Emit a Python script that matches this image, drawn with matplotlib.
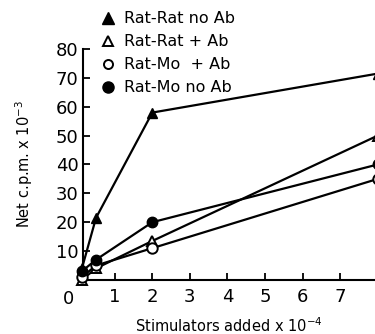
import numpy as np
import matplotlib.pyplot as plt
from matplotlib.lines import Line2D

# stimulators added (x 10^-4)
x_vals = [0.125, 0.5, 2, 8]

# net c.p.m. x 10^-3
rat_rat_no_ab = [4, 21.5, 58, 71.5]
rat_rat_ab = [0, 4, 13.5, 50]
rat_mo_ab = [1, 5, 11, 35]
rat_mo_no_ab = [3, 7, 20, 40]

labels = ['Rat-Rat no Ab', 'Rat-Rat + Ab', 'Rat-Mo  + Ab', 'Rat-Mo no Ab']
y_ticks = [10, 20, 30, 40, 50, 60, 70, 80]
x_ticks = [1, 2, 3, 4, 5, 6, 7]

plt.rcParams['font.family'] = ['DejaVu Sans']

fig = plt.figure(figsize=(3.75, 3.34), dpi=100)
ax = fig.add_axes([0.221, 0.162, 0.779, 0.691])

style = dict(color='black', linewidth=1.6, markersize=7.5, clip_on=False, zorder=3)
ax.plot(x_vals, rat_rat_no_ab, marker='^', markerfacecolor='black', **style)
ax.plot(x_vals, rat_rat_ab, marker='^', markerfacecolor='white', markeredgewidth=1.4, **style)
ax.plot(x_vals, rat_mo_ab, marker='o', markerfacecolor='white', markeredgewidth=1.4, **style)
ax.plot(x_vals, rat_mo_no_ab, marker='o', markerfacecolor='black', **style)

ax.set_xlim(0.15, 7.93)
ax.set_ylim(0, 80)
ax.set_xticks(x_ticks)
ax.set_yticks(y_ticks)
ax.tick_params(direction='in', length=5, width=1.3, labelsize=13, pad=3)
ax.tick_params(axis='x', pad=6)
for s in ['top', 'right']:
    ax.spines[s].set_visible(False)
for s in ['left', 'bottom']:
    ax.spines[s].set_linewidth(1.5)

ax.text(-0.05, -0.045, '0', transform=ax.transAxes, fontsize=13, ha='center', va='top')

ax.set_xlabel('Stimulators added x 10$^{-4}$', fontsize=10.5, labelpad=7)
ax.set_ylabel('Net c.p.m. x 10$^{-3}$', fontsize=10.5, labelpad=15)

handles = [
    Line2D([], [], linestyle='none', marker='^', color='black', markerfacecolor='black', markersize=8),
    Line2D([], [], linestyle='none', marker='^', color='black', markerfacecolor='white', markersize=7.5, markeredgewidth=1.4),
    Line2D([], [], linestyle='none', marker='o', color='black', markerfacecolor='white', markersize=6.5, markeredgewidth=1.4),
    Line2D([], [], linestyle='none', marker='o', color='black', markerfacecolor='black', markersize=8),
]
fig.legend(handles, labels, loc='upper left', bbox_to_anchor=(0.245, 0.99), frameon=False,
           fontsize=11.5, handlelength=1.0, handletextpad=0.5, labelspacing=0.5, borderpad=0)

fig.savefig('out.png', dpi=100)
